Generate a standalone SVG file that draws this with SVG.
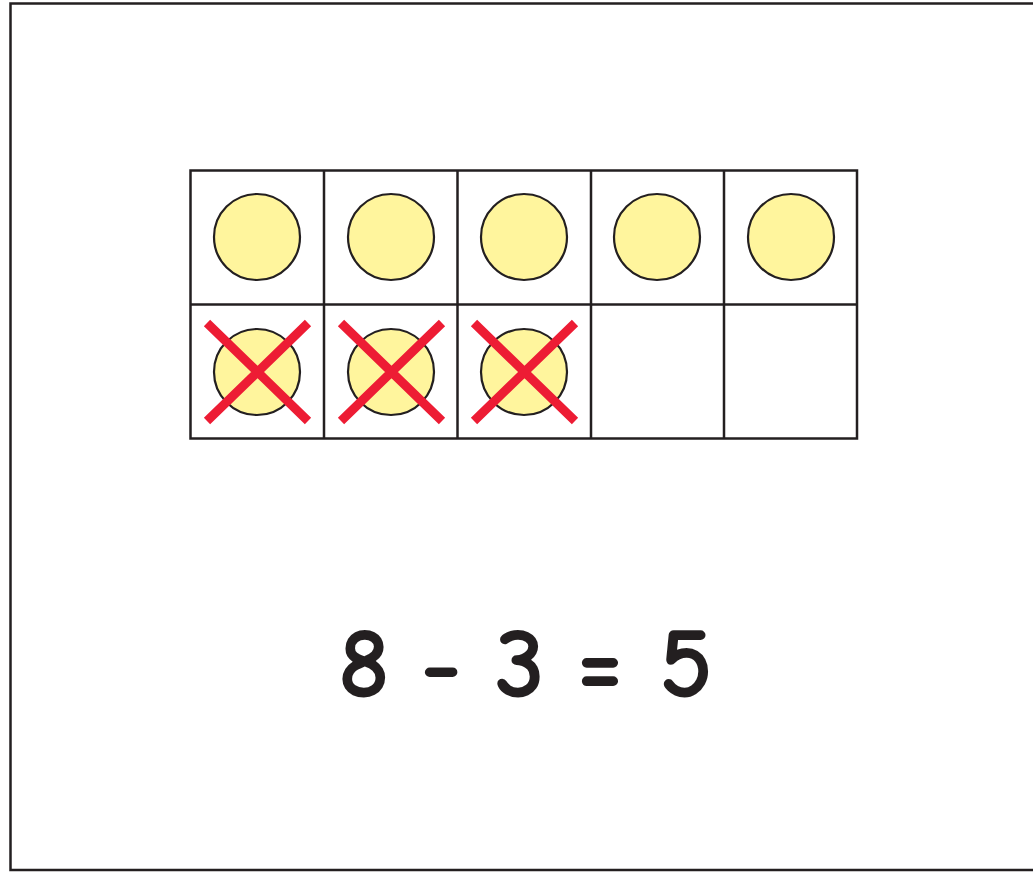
<svg xmlns="http://www.w3.org/2000/svg" width="1033" height="872" viewBox="0 0 1033 872">
<defs>
<style>
.frame{fill:none;stroke:#231f20;stroke-width:2.5}
.grid{fill:#fff;stroke:#231f20;stroke-width:2.5}
.counter{fill:#fff59d;stroke:#231f20;stroke-width:2.2}
.cross{stroke:#ed1c34;stroke-width:9;stroke-linecap:butt}
.eq{font-family:"Comic Neue","DejaVu Sans","Liberation Sans",sans-serif;font-size:102px;font-weight:bold;fill:#231f20;text-anchor:middle}
</style>
</defs>
<rect width="1033" height="872" fill="#fff"/>
<path class="frame" d="M1040,3.5 H10.5 V870 H1040"/>
<g id="ten-frame">
<rect class="grid" x="190.5" y="170.5" width="666.5" height="268"/>
<line class="grid" x1="190.5" y1="304.5" x2="857" y2="304.5"/>
<line class="grid" x1="324" y1="170.5" x2="324" y2="438.5"/>
<line class="grid" x1="457.5" y1="170.5" x2="457.5" y2="438.5"/>
<line class="grid" x1="591" y1="170.5" x2="591" y2="438.5"/>
<line class="grid" x1="724" y1="170.5" x2="724" y2="438.5"/>
</g>
<g id="counters-top">
<circle class="counter" cx="257" cy="237" r="43"/>
<circle class="counter" cx="391" cy="237" r="43"/>
<circle class="counter" cx="524" cy="237" r="43"/>
<circle class="counter" cx="657" cy="237" r="43"/>
<circle class="counter" cx="791" cy="237" r="43"/>
</g>
<g id="counters-crossed">
<circle class="counter" cx="257" cy="372" r="43"/>
<circle class="counter" cx="391" cy="372" r="43"/>
<circle class="counter" cx="524" cy="372" r="43"/>
<path class="cross" d="M207,323 L308,421 M308,323 L207,421"/>
<path class="cross" d="M341,323 L442,421 M442,323 L341,421"/>
<path class="cross" d="M474,323 L575,421 M575,323 L474,421"/>
</g>
<g id="equation">
<text class="eq" x="364" y="697">8</text>
<text class="eq" x="441" y="697">-</text>
<text class="eq" x="520" y="697">3</text>
<text class="eq" x="600" y="697">=</text>
<text class="eq" x="686" y="697">5</text>
</g>
</svg>
